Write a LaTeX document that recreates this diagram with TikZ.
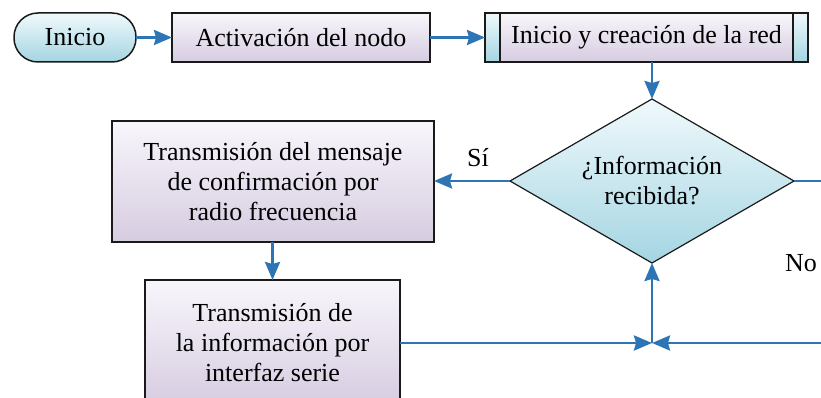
\documentclass[tikz,border=0pt]{standalone}
\usepackage{fontspec}
\setmainfont{Liberation Serif}
\usetikzlibrary{shapes.geometric,arrows.meta}
\definecolor{flow}{HTML}{2E75B6}
\definecolor{lavtop}{HTML}{F8F6FB}
\definecolor{lavbot}{HTML}{D6CCE1}
\definecolor{cyantop}{HTML}{F0F9FC}
\definecolor{cyanbot}{HTML}{A4D5E2}
\definecolor{edgec}{HTML}{1A1A1A}
\begin{document}
\begin{tikzpicture}[x=1pt,y=-1pt,
  font=\fontsize{26}{30}\selectfont,
  proc/.style={draw=edgec,line width=1.5pt,top color=lavtop,bottom color=lavbot,align=center,inner sep=0pt,outer sep=0pt},
  term/.style={draw=edgec,line width=1.5pt,top color=cyantop,bottom color=cyanbot,rounded corners=24pt,inner sep=0pt,outer sep=0pt},
  decision/.style={diamond,draw=edgec,line width=1.2pt,top color=cyantop,bottom color=cyanbot,inner sep=0pt,outer sep=0pt},
  bar/.style={draw=edgec,line width=1.5pt,top color=cyantop,bottom color=cyanbot},
  flowline/.style={draw=flow,line width=2.7pt},
  flowarrow/.style={flowline,-{Stealth[length=18pt,width=15pt,inset=2pt]}}]
\clip (0,0) rectangle (821,398);
\useasboundingbox (0,0) rectangle (821,398);
\node[term,minimum width=122pt,minimum height=49pt] (inicio) at (75,37.5) {Inicio};
\node[proc,minimum width=258pt,minimum height=49pt] (act) at (301,37.5) {Activación del nodo};
\node[proc,minimum width=323pt,minimum height=49pt] (red) at (646.5,37.5) {};
\path[bar] (red.north west) rectangle ([xshift=15pt]red.south west);
\path[bar] (red.north east) rectangle ([xshift=-15pt]red.south east);
\node (redtext) at (red.center) {Inicio y creación de la red};
\node[decision,minimum width=284pt,minimum height=164pt] (dec) at (652,181) {};
\node[align=center] (dectext) at (dec.center) {¿Información\\recibida?};
\node[proc,minimum width=322pt,minimum height=121pt] (conf) at (273,181.5) {Transmisión del mensaje\\de confirmación por\\radio frecuencia};
\node[proc,minimum width=255pt,minimum height=126pt] (ser) at (272.5,343) {Transmisión de\\la información por\\interfaz serie};
\coordinate (j) at (652,343);
\coordinate (rb) at (823,343);
\coordinate (re) at (823,181);
\node (si) at (478,158) {Sí};
\node (no) at (801,263) {No};
\draw[flowarrow] (inicio.east) -- (act.west);
\draw[flowarrow] (act.east) -- (red.west);
\draw[flowarrow] (dec.north |- red.south) -- (dec.north);
\draw[flowarrow] (dec.west) -- (dec.west -| conf.east);
\draw[flowarrow] (conf.south -| ser.north) -- (ser.north);
\draw[flowarrow] (ser.east |- j) -- (j);
\draw[flowarrow] (rb) -- (j);
\draw[flowarrow] (j) -- (dec.south);
\draw[flowline] (dec.east) -- (re);
\end{tikzpicture}
\end{document}
